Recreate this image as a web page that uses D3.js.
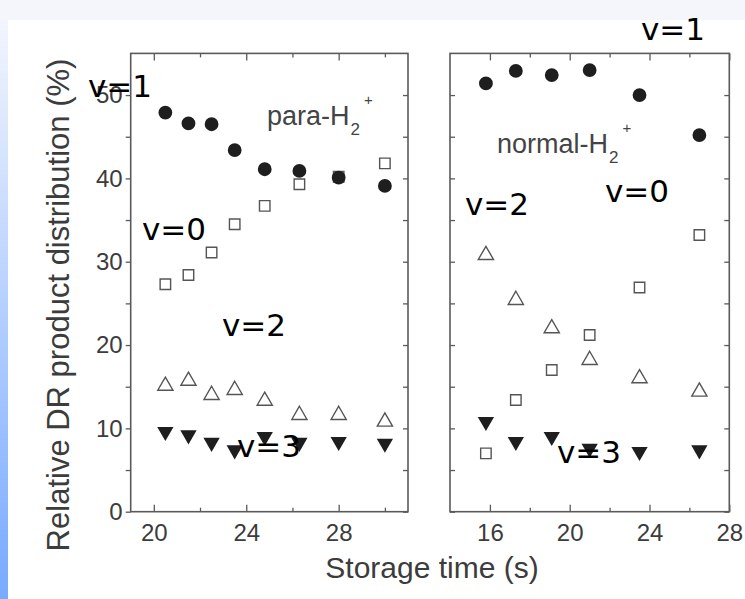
<!DOCTYPE html>
<html><head><meta charset="utf-8">
<script src="https://cdn.jsdelivr.net/npm/d3@7"></script>
<style>
html,body{margin:0;padding:0;background:#f4f6fc;}
svg{display:block;}
</style></head>
<body>
<svg id="c" width="745" height="599"></svg>
<script>
// ---- data ----
const paraTime = [20.5, 21.5, 22.5, 23.5, 24.8, 26.3, 28.0, 30.0];
const paraV1   = [47.9, 46.6, 46.5, 43.4, 41.1, 40.9, 40.1, 39.1];
const paraV0   = [27.3, 28.4, 31.1, 34.5, 36.7, 39.3, 40.2, 41.8];
const paraV2   = [15.1, 15.7, 14.0, 14.6, 13.3, 11.6, 11.6, 10.8];
const paraV3   = [9.6, 9.2, 8.3, 7.4, 9.0, 8.3, 8.4, 8.2];

const normalTime = [15.8, 17.3, 19.1, 21.0, 23.5, 26.5];
const normalV1   = [51.4, 52.9, 52.4, 53.0, 50.0, 45.2];
const normalV0   = [7.0, 13.4, 17.0, 21.2, 26.9, 33.2];
const normalV2   = [30.8, 25.4, 22.0, 18.2, 16.0, 14.4];
const normalV3   = [10.8, 8.4, 9.0, 7.6, 7.2, 7.4];

const yTicks = [0, 10, 20, 30, 40, 50];
const yMinor = [5, 15, 25, 35, 45];
const leftXTicks = [20, 24, 28];
const leftXMinor = [22, 26, 30];
const rightXTicks = [16, 20, 24, 28];
const rightXMinor = [18, 22, 26];

const svg = d3.select('#c');
const W = 745, H = 599;

// background
const defs = svg.append('defs');
const g1 = defs.append('linearGradient').attr('id','strip').attr('x1',0).attr('y1',0).attr('x2',0).attr('y2',1);
g1.append('stop').attr('offset','0%').attr('stop-color','#f2f5fd');
g1.append('stop').attr('offset','100%').attr('stop-color','#78aaff');
svg.append('rect').attr('x',0).attr('y',0).attr('width',W).attr('height',H).attr('fill','#f4f6fc');
svg.append('rect').attr('x',0).attr('y',20).attr('width',8).attr('height',H-20).attr('fill','url(#strip)');
svg.append('rect').attr('x',8).attr('y',20).attr('width',W-8).attr('height',H-20).attr('fill','#ffffff');

const y = d3.scaleLinear().domain([0,55]).range([511.7,53.4]);
const xL = d3.scaleLinear().domain([19,31]).range([130.7,408]);
const xR = d3.scaleLinear().domain([14,28]).range([450,729.3]);

const axisCol = '#5a5a5a';
const textCol = '#3c3c3c';
const font = "'Liberation Sans', Arial, sans-serif";

function panel(x, leftLabels, majors, minors) {
  const [x0, x1] = x.range();
  const [y0, y1] = [y.range()[1], y.range()[0]];
  const g = svg.append('g');
  g.append('g').attr('transform',`translate(0,${y1})`)
    .call(d3.axisBottom(x).tickValues(majors).tickSize(-7).tickPadding(12).tickFormat(d3.format('d')));
  g.append('g').attr('transform',`translate(0,${y1})`)
    .call(d3.axisBottom(x).tickValues(minors).tickSize(-4).tickFormat(''));
  g.append('g').attr('transform',`translate(0,${y0})`)
    .call(d3.axisTop(x).tickValues(majors).tickSize(-7).tickFormat(''));
  g.append('g').attr('transform',`translate(0,${y0})`)
    .call(d3.axisTop(x).tickValues(minors).tickSize(-4).tickFormat(''));
  if (leftLabels) {
    g.append('g').attr('transform',`translate(${x0},0)`)
      .call(d3.axisLeft(y).tickValues(yTicks).tickSize(5).tickPadding(3).tickFormat(d3.format('d')));
    g.append('g').attr('transform',`translate(${x0},0)`)
      .call(d3.axisLeft(y).tickValues(yMinor).tickSize(5).tickFormat(''));
  } else {
    g.append('g').attr('transform',`translate(${x0},0)`)
      .call(d3.axisLeft(y).tickValues(yTicks.concat(yMinor)).tickSize(-5).tickFormat(''));
  }
  g.append('g').attr('transform',`translate(${x1},0)`)
    .call(d3.axisRight(y).tickValues(yTicks.concat(yMinor)).tickSize(-5).tickFormat(''));
  g.selectAll('.domain').remove();
  g.selectAll('.tick line').attr('stroke',axisCol).attr('stroke-width',1.3);
  g.selectAll('.tick text').attr('fill',textCol).attr('font-family',font).attr('font-size',24);
  g.append('rect').attr('x',x0).attr('y',y0).attr('width',x1-x0).attr('height',y1-y0)
    .attr('fill','none').attr('stroke',axisCol).attr('stroke-width',1.6);
  return g;
}

panel(xL, true, leftXTicks, leftXMinor);
panel(xR, false, rightXTicks, rightXMinor);

const markFill = '#1e1e1e';
const sym = {
  circle: d3.symbol().type(d3.symbolCircle).size(150)(),
  square: d3.symbol().type(d3.symbolSquare).size(110)(),
  tri: d3.symbol().type(d3.symbolTriangle).size(100)(),
  triDown: d3.symbol().type(d3.symbolTriangle).size(115)()
};

function series(x, times, vals, kind) {
  const g = svg.append('g');
  const pts = g.selectAll('path').data(times.map((t,i)=>[t, vals[i]])).join('path')
    .attr('d', sym[kind])
    .attr('transform', d => `translate(${x(d[0])},${y(d[1])})` + (kind==='triDown' ? ' rotate(180)' : ''));
  if (kind === 'circle' || kind === 'triDown') {
    pts.attr('fill', markFill).attr('stroke','none');
  } else {
    pts.attr('fill','none').attr('stroke','#555').attr('stroke-width',1.4);
  }
}

series(xL, paraTime, paraV0, 'square');
series(xL, paraTime, paraV2, 'tri');
series(xL, paraTime, paraV3, 'triDown');
series(xL, paraTime, paraV1, 'circle');

series(xR, normalTime, normalV0, 'square');
series(xR, normalTime, normalV2, 'tri');
series(xR, normalTime, normalV3, 'triDown');
series(xR, normalTime, normalV1, 'circle');

// in-plot labels
function ion(xp, yb, name) {
  const t = svg.append('text').attr('x', xp).attr('y', yb)
    .attr('font-family', font).attr('font-size', 27).attr('fill', '#444');
  t.append('tspan').text(name + '-H');
  t.append('tspan').attr('font-size', 17).attr('dx', 1).attr('dy', 10).text('2');
  t.append('tspan').attr('font-size', 15).attr('dx', 4).attr('dy', -30).text('+');
}
ion(267, 125, 'para');
ion(497, 153, 'normal');

// axis titles
svg.append('text').attr('x', 432).attr('y', 578).attr('text-anchor','middle')
  .attr('font-family', font).attr('font-size', 30).attr('fill', textCol).text('Storage time (s)');
svg.append('text').attr('transform','translate(69,305) rotate(-90)').attr('text-anchor','middle')
  .attr('font-family', font).attr('font-size', 31).attr('fill', textCol).text('Relative DR product distribution (%)');

// overlay annotations
const ann = [
  ['v=1', 641, 40], ['v=1', 88, 97], ['v=0', 142, 240], ['v=2', 222, 336],
  ['v=3', 237, 457], ['v=2', 465, 215], ['v=0', 605, 202], ['v=3', 557, 463]
];
svg.append('g').selectAll('text').data(ann).join('text')
  .attr('x', d => d[1]).attr('y', d => d[2])
  .attr('font-family', "'DejaVu Sans', sans-serif").attr('font-size', 31).attr('fill', '#000')
  .text(d => d[0]);
</script>
</body></html>
